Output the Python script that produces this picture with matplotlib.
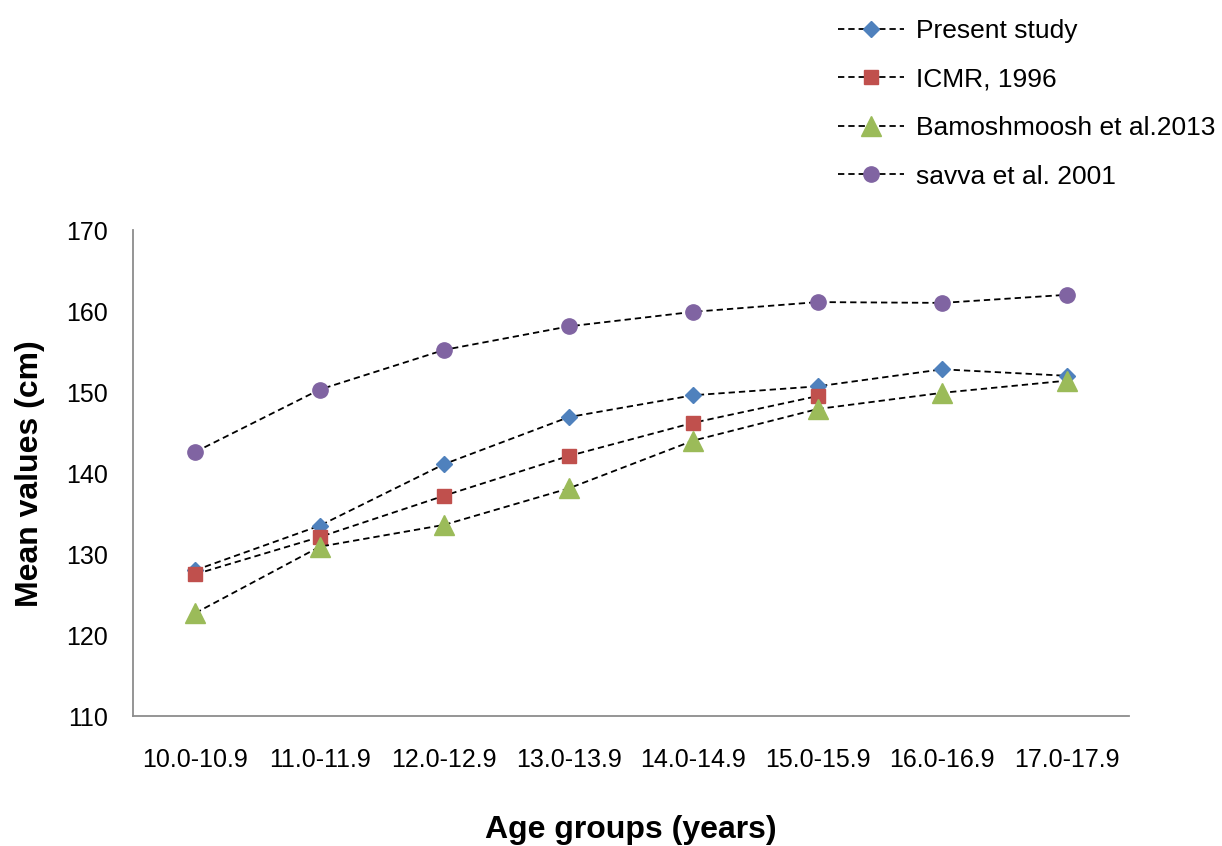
import matplotlib
matplotlib.use("Agg")
import matplotlib.pyplot as plt
import numpy as np

plt.rcParams['font.family'] = ['Liberation Sans', 'DejaVu Sans']

categories = ["10.0-10.9", "11.0-11.9", "12.0-12.9", "13.0-13.9",
              "14.0-14.9", "15.0-15.9", "16.0-16.9", "17.0-17.9"]
present_study = [128.0, 133.5, 141.1, 146.9, 149.6, 150.7, 152.8, 152.0]
icmr_1996 = [127.5, 132.1, 137.2, 142.1, 146.2, 149.5, np.nan, np.nan]
bamoshmoosh_2013 = [122.7, 130.9, 133.6, 138.1, 144.0, 147.9, 149.9, 151.4]
savva_2001 = [142.6, 150.3, 155.2, 158.1, 159.9, 161.1, 161.0, 162.0]

series = [
    ("Present study", present_study, "D", "#4F81BD", 8.5),
    ("ICMR, 1996", icmr_1996, "s", "#C0504D", 10),
    ("Bamoshmoosh et al.2013", bamoshmoosh_2013, "^", "#9BBB59", 14),
    ("savva et al. 2001", savva_2001, "o", "#8064A2", 11),
]

fig = plt.figure(figsize=(12.22, 8.46), dpi=100)
ax = fig.add_axes([133/1222, 130/846, (1129-133)/1222, (716-230)/846])

x = np.arange(len(categories))
for label, vals, mk, col, ms in series:
    ax.plot(x, vals, linestyle=(0, (3.5, 2.2)), color="black", linewidth=1.3,
            marker=mk, markersize=ms, markerfacecolor=col, markeredgecolor=col,
            label=label)

ax.set_xlim(-0.5, len(categories) - 0.5)
ax.set_ylim(110, 170)
ax.set_yticks(np.arange(110, 171, 10))
ax.set_xticks(x)
ax.set_xticklabels(categories)
ax.tick_params(axis='both', length=0, labelsize=18, colors='black')
ax.tick_params(axis='y', pad=18)
ax.tick_params(axis='x', pad=23)
for s in ['top', 'right']:
    ax.spines[s].set_visible(False)
for s in ['left', 'bottom']:
    ax.spines[s].set_color('#8c8c8c')
    ax.spines[s].set_linewidth(1.3)

fig.text(631/1222, 1 - 830/846, "Age groups (years)", ha='center', va='center',
         fontsize=23, fontweight='bold')
fig.text(30/1222, 1 - 474/846, "Mean values (cm)", ha='center', va='center',
         rotation=90, fontsize=23, fontweight='bold')

handles, labels = ax.get_legend_handles_labels()
fig.legend(handles, labels, loc='upper left',
           bbox_to_anchor=(838/1222, 1 - 19/846), frameon=False,
           fontsize=19, handlelength=2.5, handletextpad=0.45,
           labelspacing=0.93, borderpad=0, borderaxespad=0, markerscale=1.0)

fig.savefig("out.png", dpi=100)
